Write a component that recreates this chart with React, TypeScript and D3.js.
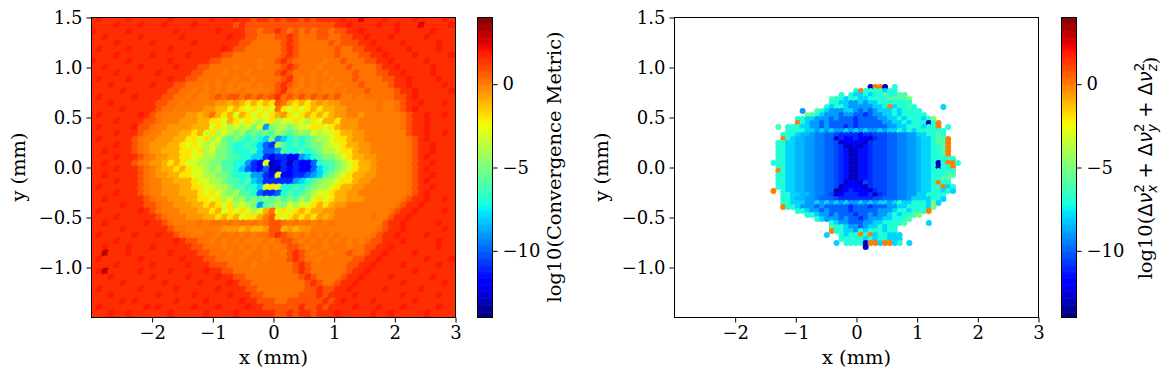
import React, { useEffect, useRef } from 'react';
import * as d3 from 'd3';

// one letter per dot, mapped to log10 value through levelValues
const levelChars = 'ABCDEFGHIJKLMNOPQRSTUbcde';
const levelValues = [-13, -12, -11, -10, -9, -8, -7, -6, -5, -4, -3, -2, -1, -0.5, 0, 0.2, 0.8, 1.5, 1.9, 2.4, 3, -11.5, -10.5, -9.5, -8.5];

// left panel, y from 1.47 down to -1.47, 61 columns across x
const metricRows = [
  'RSRRRRSRRR RRRSRRRRRR SRRRSRRQRR QRQRRQRQRR RRSRRTRRRS RRRRSRRRRSR',
  'RRRRSRRRSR RRSRRRRSRR RRRRQRQQQQ QQQQQQQQQQ QRRSRRRRSR RSRRRTRRRRS',
  'SRRRRRSRRR RRRRSRRRRR RSRRRRQQPQ QRQPQPQPQQ PQQRRSRRRR RSRRRRRSRRR',
  'RRSRRRRRSR RRRRRSRRRR RRRSRRQQPP PQQRQPPPQQ PPQQRRSRRR SRRRRRSRRRR',
  'RRRRSRRRRR SRRRRRRSRR RRRRRQQPPP PPQRQPPPPP QPQQQRRSRR RRSRRRRRSRR',
  'RSRRRRSRRR RRRSRRRRRR RRSRQQPPPP PPQRQPPPPP PQPPQQRRSR RRRSRRRRSRR',
  'RRRRSRRRRR SRRRRRSRRR RRQQPPPPPP PPQRQPPPPP PQPPPQQRRS RRRRSRRRRRS',
  'SRRRRRSRRR RRRSRRRRRR QQPPPPPPOP PQRQPPPPPO PPQPPPQQRR SRRRRRSRRRR',
  'RRSRRRRRSR RRRRSRRRQQ PPPPOPPPOP PPQRQPPPOP PPPQPPPPQR RSRRRRRSRRR',
  'RRRRSRRRRR RSRRRRRQQP PPOPPPOPPP PQRQPPPOPO PPPPQPPPQQ RRSRRRRSRRR',
  'RSRRRRSRRR RRRSRRQQPP POPPOPPOPP PPQRPOPOPP OPPPQPPPPQ QRRSRRRRSRR',
  'RRRSRRRRRR SRRRQQPPPO POPOPOOPOP PQRQPOPOPO POPPPQPPPP QRRSRRRRRSR',
  'RRRRRSRRRR RRRQQPPOPO POPOOPOOOO PQRPOPOOPO OPOPPPQPPP PQRRSRRRRRS',
  'RSRRRRRSRR RRQQPPOPOO PQPQQPQPQP QRPQPQPQPQ PQOOPOPPPP PQQRSRRRRRR',
  'RRRSRRRRRR RQQPPOPOOO ONNMNMLMLM LQPMLMLMNM NNOOOOOOPO OPQRRSRRRSR',
  'RRRRRSRRRR RQPPOOOOON NMMLMLKLKL KPLKLKLMLM MNNOOOOOPO OPQRSRRRRRR',
  'RSRRRRRRSR QPOOOONNMN PMLMKMLKLK LMNLKLMLML MNNOONOOOO OOPQRRSRRSR',
  'RRRRSRRRRQ QPOOONNNMM LLKMLKLKJK LJKKLKJLKM MLNNNOOOOO OOPQRRSRRRR',
  'RSRRRRRSQQ POONNNNMMM KLKJKJKIKE IJJIJKKLLK LMNNNOOOOO OOPQRRSRRRR',
  'RRRRSRRRQP OONNNMMLMK LJKJIJHIHI HJIHIJIKJK KLMMNNOOOO OOOQRRSRRSR',
  'RSRRRRRQPO ONNNMMLLKL JKIHIHGHGF IEFGHGHIJJ KLLMNNOOOO OOOPQRSRRRR',
  'RRRRSRRQPO NNNMMLKLKJ KJIHGGHGFD CJHGHGHIIJ KKLMMNNOOO OOOPQRRSRRR',
  'RRSRRRRQPO NNMMMLLKLJ KIIHGGGHFD DEHGGHGHIJ JKLLMNNOOO OOOPQRRSRRR',
  'RRRRSRRRQP ONNMMLLKKJ JIIHHGGFFC BCCBBEFGHI IJKLMMNNOO OOOPQRSRRRR',
  'RRSRRRRQPO NNMLMLKKJJ IIHHGGECBK ABCACBBDGH HIJKLMMNOO OOOPQRRSRRR',
  'RRRRSRRRQP ONMMLMLKKJ IJHHGFDCBD AACBCBBDFG HIJKLMMNOO OOOPQRSRRRR',
  'RRSRRRRRQP ONNMMLLKKJ JIIHGGGEEC BKBBCCDEFH IJKLMMNNOO OOOPQRRSRRR',
  'RRRRSRRRQP OONNMMMLKK JJIHHGHFEC CCCCEFGHIJ JKLLMNNOOO OOOPQRSRRRR',
  'RSRRRRRRQP OONNNMMLLK KJJIHHGGFK LKGGHGHIJJ KLMMNNOOOO OOOPQRRSRRR',
  'RRRRSRRRQP OONNNMMMLK LKJIJHHGDC CDGHGHIJKK LMMNNOOOOO OOOPQRSRRRR',
  'RRSRRRRRRQ POONNNMMLL KLJKIJHIHI HIHIHJIKLK LMMNNNOOOO OOPQRRSRRSR',
  'RRRRRSRRRQ QPOONNNMML MLKLJKJIEH IJIKJKKLML MNNOOOOOOO OPQRRSRRRRR',
  'RSRRRRRRSR QPOOONNNMM LMKLKLKJKM PKLKLMLMMN NOOOOOOOOO PQRRSRRRRSR',
  'RRRRSRRRRR RQPOOONNNM MLMLMKLLMO QLKLMLMLNM NOOOOOOPOO QRRSRRRRRRR',
  'RRSRRRRRRS RRQPOOOOPO PPOPOPOPOP QQPOPOPOPO POOOOOOOOQ RRSRRRRRSRR',
  'RRRRRSRRRR RRRQPPOOOO OONNNMNMMN QQMNMNNOOO OOOOOOOOPQ RRSRRRRRRSR',
  'RSRRRRRSRR RSRRQPPOOP POPOPOPOPP QRQPOPOPOP OPOOOOOPQR RSRRRRSRRRR',
  'RRRRSRRRRR RRRRSRQQPP OPOPOPOOOP OPQQPOPOPO POPOPOPQQR RRSRRRRRSRR',
  'RRSRRRSRRR SRRRRRRQQP PPOPPOPOPO POPQQPOPPO PPPOPPQQRR SRRRRRRRSRR',
  'RRURRRSRRR RRRSRRRRQQ PPPOPPOPPO PPOQRQPOPP OPPQPPQRRS RRRRSRRRRRR',
  'RSRRRRRRSR RRRRRSRRRQ QPPPPOPPPO PPPQRQPPOP PPPPQQRRSR RRRRRRSRRRS',
  'RRRRSRRRRR SRRRRRSRRR QQQPPPPOPP PPPPQRQPPP PPPQQRRSRR RRSRRRRRSRR',
  'RSURRRRRSR RRRSRRRRRS RRQQPPPPPP PPPPQRQPPP PPPQRRSRRR RRRRSRRRRRR',
  'RRRSRRRRRR SRRRRRSRRR RSRRQQPPPP PPPPPQRQPP PPQRRSRRRR SRRRRRRSRRR',
  'RRRRRSRRRR RRSRRRRRSR RRRSRQQPPP PPPPPPQRQP PQRRSRRRRR RRSRRRRRRSR',
  'RSRRRRRRSR RRRRSRRRRR RSRRRRQQPP PPPPPPQQRQ QRRSRRRRRS RRRRRSRRRRR',
  'RRRSRRRRRR RSRRRRRSRR RRRSRRRQQP PPPPPQQQRQ RRRRSRRRRR RRSRRRRRSRR',
  'RRRRRSRSRR RRRRSRRRRS RRRRRSRRQQ QPPQQQQQQR QRSRRRRSRR RRRRSRRRRRR',
  'RSRRRRRRRS RSRRRRRSRR RSRRRRSRRQ QQQQQRQQRQ RRRRSRRRSR RRSRRRRRSRR',
  'RRRSRRSRRR RRRSRRRRRS RRRRSRRRRR RQQRQRRQRR RSRRRRRSRR SRRRRRSRRRR',
];

// right panel, y from 0.80 down to -0.80 in 0.04 steps, x from -1.44 in 0.08 steps, '.' = no dot
const deltaRows = [
  '.......... .......... .AOOA.G... ..........',
  '.......... ........GO GGGGFGG... ..........',
  '.......... .....G.GFF GFGGHGGHH. ..........',
  '.......... ...HGGFGGF FGGGGHHHHI ..........',
  '.......... ...GGFFEEF EFFGGGGGGG ..........',
  '.......... ..GFGGFEEE EEFFGOFGGH G.....F...',
  '.......E.. HGFEEEFFED EDEFFFGFGG GG........',
  '........IH GFEEEDEEDD CDEEFFGFGG GGG.......',
  '......GGFF EEEDEDDDCD DDDEEFFGFG GGFGI.....',
  '......OGFE EDEDDDDDCD DDDDEEFFGF GGGAGO....',
  '..H.GGGFFE EDEDDDCDCD DDDDDEEFFG GGFGGO.G..',
  '....GGGGFF EFEFEEFEFE FEEFEFFGFG FGGGGGG...',
  '...GGGFeeE ddDDcCCCCB CCcccDDddE EFFGGHG...',
  '...OGFeeEE ddDDACBBCB BACccDDddE EeFFGHHO..',
  '..GGFFeeEE ddDDcABBBB ACcccDDddE EeFFGHHO..',
  '..GGFFeeEE ddDDcCAABA bCcccDDddE EeFFGGHO..',
  '..GGFFeeEE ddDDcCbAAb bCcccDDddE EeFFGGHO..',
  '..GGFFeeEE ddDDcCbAAb bCcccDDddE EeFFGGHO..',
  '..GGFFeeEE ddDDcCbAAb bCcccDDddE EeFFGGGGG.',
  '.GGGFFeeEE ddDDcCbAAb bCcccDDddE EeFFGAGOOG',
  '..GGFFeeEE ddDDcCbAAb bCcccDDddE EeFFGAGGO.',
  '..OGFFeeEE ddDDcCbAAb bCcccDDddE EeFFGGGGG.',
  '..GGFFeeEE ddDDcCbAAb bCcccDDddE EeFFGGGHH.',
  '..GGFFeeEE ddDDcCbAAb bCcccDDddE EeFFGGHH..',
  '..GGFFeeEE ddDDcCABBA cCcccDDddE EeFFGOGG..',
  '..GGFFeeEE ddDDcABBBB ACcccDDddE EeFFGGOFG.',
  '.O.GFFeeEE ddDDAABCBB BACccDDddE EeFFGGFGF.',
  '...GGFFeeE ddDcABCCCB BCACcDDddE EFFGGGG...',
  '...GGFeeEE dDDDcCCCCC CCccDDDddE FFFFGGF...',
  '...GGFFFEE FEFEFEFEEF EFEFFEFGFF GGGFIF....',
  '...OGGFEEE DEDDDDDCDD DCDDDEEFFG GGGFI.....',
  '......GGFE EDEDDDDCDD DDDEEEFGGF GGGO......',
  '........GG FEEDEDDDCD DEDEEFGFGG HI........',
  '.......... GFEEEDEDDC DEEEFFGGGH ..........',
  '.......... ...GFEEDDD EEFFGGGGH. ...F......',
  '.......... ...HGGFEED EFFGFGG... ..........',
  '.......... ...OGGFFEG FGGGFGG... ..........',
  '.......... ..F..GFGGO GOFGGFFF.. ..........',
  '.......... .....GGGGG FGFGGFFF.. ..........',
  '.......... ....F.GGGG AOOFOOFG.F ..........',
  '.......... .......... A......... ..........',
];

const xTicks = [-2, -1, 0, 1, 2, 3];
const yTicks = [-1, -0.5, 0, 0.5, 1, 1.5];
const cbarTicks = [0, -5, -10];

const jetR = d3.scaleLinear().domain([0, 0.35, 0.66, 0.89, 1]).range([0, 0, 1, 1, 0.5]);
const jetG = d3.scaleLinear().domain([0, 0.125, 0.375, 0.64, 0.91, 1]).range([0, 0, 1, 1, 0, 0]);
const jetB = d3.scaleLinear().domain([0, 0.11, 0.34, 0.65, 1]).range([0.5, 1, 1, 0, 0]);
const jet = (t: number) =>
  d3.rgb(jetR(t) * 255, jetG(t) * 255, jetB(t) * 255).formatHex();

const norm = d3.scaleLinear().domain([-14, 4]).range([0, 1]);

function parseRows(rows: string[]) {
  return rows.map(r => r.replace(/ /g, '').split(''));
}

const SERIF = '"DejaVu Serif", serif';
const SANS = '"DejaVu Sans", sans-serif';
const TICK_SIZE = '18px';
const LABEL_SIZE = '19.4px';
const fmt = (d: number) => String(d).replace('-', '\u2212');
const fmt1 = (d: number) => d.toFixed(1).replace('-', '\u2212');

function App() {
  const svgRef = useRef<SVGSVGElement>(null);

  useEffect(() => {
    const svg = d3.select(svgRef.current);
    svg.selectAll('*').remove();

    const top = 17, bottom = 317;

    function panel(left: number, id: string) {
      const right = left + 364;
      const x = d3.scaleLinear().domain([-3, 3]).range([left, right]);
      const y = d3.scaleLinear().domain([-1.5, 1.5]).range([bottom, top]);

      svg.append('clipPath').attr('id', id)
        .append('rect')
        .attr('x', left).attr('y', top)
        .attr('width', right - left).attr('height', bottom - top);

      const dots = svg.append('g').attr('clip-path', `url(#${id})`);

      const xAxis = svg.append('g')
        .attr('transform', `translate(0.5,${bottom + 0.5})`)
        .call(d3.axisBottom(x).tickValues(xTicks).tickSize(5).tickPadding(4).tickFormat(fmt as any));
      const yAxis = svg.append('g')
        .attr('transform', `translate(${left + 0.5},0.5)`)
        .call(d3.axisLeft(y).tickValues(yTicks).tickSize(5).tickPadding(4).tickFormat(fmt1 as any));
      [xAxis, yAxis].forEach(a => {
        a.select('.domain').remove();
        a.selectAll('text').style('font-family', SERIF).style('font-size', TICK_SIZE).attr('fill', '#000');
      });

      svg.append('rect')
        .attr('x', left + 0.5).attr('y', top + 0.5)
        .attr('width', right - left).attr('height', bottom - top)
        .attr('fill', 'none').attr('stroke', '#000').attr('stroke-width', 1);

      svg.append('text')
        .attr('x', (left + right) / 2 + 0.5).attr('y', 364)
        .attr('text-anchor', 'middle')
        .style('font-family', SERIF).style('font-size', LABEL_SIZE)
        .text('x (mm)');
      svg.append('text')
        .attr('transform', `translate(${left - 66},167) rotate(-90)`)
        .attr('text-anchor', 'middle')
        .style('font-family', SERIF).style('font-size', LABEL_SIZE)
        .text('y (mm)');

      return { x, y, dots };
    }

    function colorbar(left: number) {
      const cy = d3.scaleLinear().domain([-14, 4]).range([bottom, top]);
      const steps = d3.range(0, 256);
      svg.append('g').selectAll('rect')
        .data(steps)
        .enter().append('rect')
        .attr('x', left)
        .attr('y', d => cy(-14 + (d + 1) * 18 / 256))
        .attr('width', 15)
        .attr('height', 300 / 256 + 0.6)
        .attr('fill', d => jet(d / 255));

      const ax = svg.append('g')
        .attr('transform', `translate(${left + 15.5},0.5)`)
        .call(d3.axisRight(cy).tickValues(cbarTicks).tickSize(5).tickPadding(5).tickFormat(fmt as any));
      ax.select('.domain').remove();
      ax.selectAll('text').style('font-family', SERIF).style('font-size', TICK_SIZE).attr('fill', '#000');

      svg.append('rect')
        .attr('x', left + 0.5).attr('y', top + 0.5)
        .attr('width', 15).attr('height', bottom - top)
        .attr('fill', 'none').attr('stroke', '#000');
    }

    // Left panel
    const a = panel(91, 'clip-a');
    const metricData = parseRows(metricRows).flatMap((row, j) =>
      row.map((c, i) => ({
        x: -3 + (i + 0.5) * 6 / 61,
        y: 1.5 - (j + 0.5) * 0.06,
        v: levelValues[levelChars.indexOf(c)]
      }))
    );
    a.dots.selectAll('circle')
      .data(metricData)
      .enter().append('circle')
      .attr('cx', d => a.x(d.x))
      .attr('cy', d => a.y(d.y))
      .attr('r', 4.6)
      .attr('fill', d => jet(norm(d.v)));
    colorbar(477);

    // Right panel
    const b = panel(674, 'clip-b');
    const deltaData = parseRows(deltaRows).flatMap((row, j) =>
      row.map((c, i) => ({
        x: -1.44 + i * 0.08,
        y: 0.8 - j * 0.04,
        c
      })).filter(d => d.c !== '.')
    ).map(d => ({ ...d, v: levelValues[levelChars.indexOf(d.c)] }));
    b.dots.selectAll('circle')
      .data(deltaData)
      .enter().append('circle')
      .attr('cx', d => b.x(d.x))
      .attr('cy', d => b.y(d.y))
      .attr('r', 3)
      .attr('fill', d => jet(norm(d.v)));
    colorbar(1061);

    // Colorbar labels
    svg.append('text')
      .attr('transform', 'translate(561,167) rotate(-90)')
      .attr('text-anchor', 'middle')
      .style('font-family', SERIF).style('font-size', LABEL_SIZE)
      .text('log10(Convergence Metric)');

    const mathLabel = svg.append('text')
      .attr('transform', 'translate(1152,168) rotate(-90)')
      .attr('text-anchor', 'middle')
      .style('font-family', SERIF).style('font-size', LABEL_SIZE);
    mathLabel.append('tspan').text('log10(');
    ['x', 'y', 'z'].forEach((s, i) => {
      mathLabel.append('tspan').style('font-family', SANS).text('\u0394');
      mathLabel.append('tspan').style('font-family', SANS).style('font-style', 'italic').text('\u03bd');
      mathLabel.append('tspan').attr('dy', -8).style('font-size', '13.5px').style('font-family', SANS).text('2');
      mathLabel.append('tspan').attr('dy', 13).attr('dx', -8.6).style('font-size', '13.5px')
        .style('font-family', SANS).style('font-style', 'italic').text(s);
      mathLabel.append('tspan').attr('dy', -5).style('font-family', SANS)
        .text(i < 2 ? '\u00a0+\u00a0' : '');
    });
    mathLabel.append('tspan').text(')');
  }, []);

  return (
    <svg
      ref={svgRef}
      width={1172}
      height={378}
      style={{ position: 'absolute', left: 0, top: 0, display: 'block', background: '#fff' }}
    />
  );
}

export default App;
